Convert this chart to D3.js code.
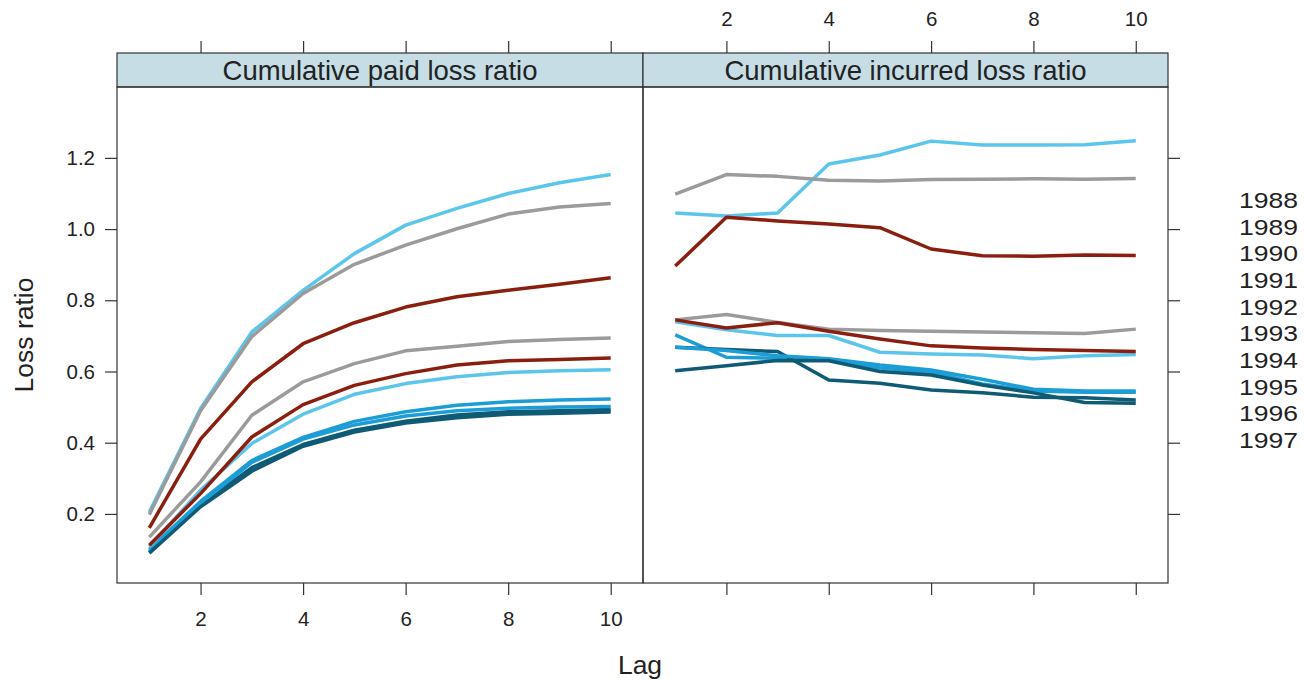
<!DOCTYPE html>
<html>
<head>
<meta charset="utf-8">
<script src="https://cdn.jsdelivr.net/npm/d3@7"></script>
<style>
  body { margin: 0; background: #fff; }
  svg { display: block; font-family: "Liberation Sans", Arial, sans-serif; }
</style>
</head>
<body>
<svg id="chart" width="1304" height="680"></svg>
<script>
// ---------------- data ----------------
const lags = [1, 2, 3, 4, 5, 6, 7, 8, 9, 10];
const years = ["1988", "1989", "1990", "1991", "1992", "1993", "1994", "1995", "1996", "1997"];
const panelTitles = ["Cumulative paid loss ratio", "Cumulative incurred loss ratio"];
const xTicks = [2, 4, 6, 8, 10];
const yTicks = [0.2, 0.4, 0.6, 0.8, 1.0, 1.2];

const paid1988 = [0.205, 0.496, 0.711, 0.828, 0.931, 1.011, 1.058, 1.100, 1.130, 1.153];
const paid1989 = [0.198, 0.490, 0.698, 0.819, 0.901, 0.955, 1.001, 1.042, 1.062, 1.072];
const paid1990 = [0.161, 0.410, 0.571, 0.678, 0.737, 0.781, 0.810, 0.828, 0.845, 0.863];
const paid1991 = [0.100, 0.235, 0.350, 0.415, 0.460, 0.487, 0.505, 0.515, 0.520, 0.523];
const paid1992 = [0.092, 0.225, 0.330, 0.395, 0.435, 0.460, 0.478, 0.487, 0.490, 0.493];
const paid1993 = [0.107, 0.267, 0.398, 0.480, 0.536, 0.566, 0.585, 0.597, 0.602, 0.605];
const paid1994 = [0.135, 0.290, 0.477, 0.571, 0.622, 0.658, 0.671, 0.684, 0.690, 0.694];
const paid1995 = [0.112, 0.257, 0.416, 0.507, 0.561, 0.594, 0.618, 0.630, 0.634, 0.638];
const paid1996 = [0.095, 0.230, 0.345, 0.410, 0.450, 0.475, 0.490, 0.497, 0.500, 0.502];
const paid1997 = [0.090, 0.220, 0.320, 0.390, 0.430, 0.455, 0.470, 0.480, 0.483, 0.486];

const inc1988 = [1.045, 1.037, 1.045, 1.183, 1.208, 1.247, 1.236, 1.236, 1.237, 1.248];
const inc1989 = [1.098, 1.153, 1.148, 1.137, 1.135, 1.139, 1.140, 1.141, 1.140, 1.142];
const inc1990 = [0.896, 1.033, 1.023, 1.014, 1.004, 0.944, 0.925, 0.924, 0.927, 0.926];
const inc1991 = [0.703, 0.640, 0.637, 0.634, 0.610, 0.598, 0.565, 0.545, 0.542, 0.542];
const inc1992 = [0.668, 0.662, 0.656, 0.576, 0.567, 0.548, 0.540, 0.528, 0.526, 0.520];
const inc1993 = [0.740, 0.717, 0.701, 0.701, 0.654, 0.649, 0.646, 0.636, 0.644, 0.648];
const inc1994 = [0.745, 0.760, 0.738, 0.719, 0.715, 0.713, 0.711, 0.709, 0.707, 0.719];
const inc1995 = [0.745, 0.722, 0.737, 0.713, 0.691, 0.672, 0.666, 0.662, 0.659, 0.656];
const inc1996 = [0.668, 0.659, 0.644, 0.636, 0.618, 0.604, 0.578, 0.550, 0.545, 0.545];
const inc1997 = [0.602, 0.616, 0.631, 0.630, 0.600, 0.590, 0.562, 0.540, 0.513, 0.511];

const paidSeries = [paid1988, paid1989, paid1990, paid1991, paid1992, paid1993, paid1994, paid1995, paid1996, paid1997];
const incSeries = [inc1988, inc1989, inc1990, inc1991, inc1992, inc1993, inc1994, inc1995, inc1996, inc1997];

// colour cycle (5 colours over 10 years)
const palette = ["#5cc5ec", "#9b9b9b", "#8a1f10", "#1c9dd6", "#0f5a74"];

// ---------------- layout ----------------
const svg = d3.select("#chart");
const W = 1304, H = 680;
svg.append("rect").attr("width", W).attr("height", H).attr("fill", "#fff");

const panelTop = 87, panelBottom = 583, stripTop = 53;
const panels = [
  { x0: 117, x1: 643, title: panelTitles[0], series: paidSeries },
  { x0: 643, x1: 1168, title: panelTitles[1], series: incSeries }
];

const y = d3.scaleLinear().domain([0.006, 1.399]).range([panelBottom, panelTop]);
const axisColor = "#333";
const textColor = "#222";
const tickFont = 20.5;

panels.forEach((p, pi) => {
  const x = d3.scaleLinear().domain([0.37, 10.63]).range([p.x0, p.x1]);
  const g = svg.append("g");

  // strip
  g.append("rect").attr("x", p.x0).attr("y", stripTop)
    .attr("width", p.x1 - p.x0).attr("height", panelTop - stripTop)
    .attr("fill", "#c6dde6").attr("stroke", axisColor).attr("stroke-width", 1.2);
  g.append("text").attr("x", (p.x0 + p.x1) / 2).attr("y", 80)
    .attr("text-anchor", "middle").attr("font-size", 27.5).attr("fill", textColor)
    .text(p.title);

  // lines
  const line = d3.line().x((d, i) => x(lags[i])).y(d => y(d));
  g.selectAll("path.series").data(p.series).join("path")
    .attr("class", "series")
    .attr("d", d => line(d))
    .attr("fill", "none")
    .attr("stroke", (d, i) => palette[i % palette.length])
    .attr("stroke-width", 3.5)
    .attr("stroke-linejoin", "round");

  // panel border
  g.append("rect").attr("x", p.x0).attr("y", panelTop)
    .attr("width", p.x1 - p.x0).attr("height", panelBottom - panelTop)
    .attr("fill", "none").attr("stroke", axisColor).attr("stroke-width", 1.2);

  // bottom axis
  const bottom = d3.axisBottom(x).tickValues(xTicks).tickSize(12).tickPadding(16)
    .tickFormat(pi === 0 ? d3.format("d") : () => "");
  const gb = g.append("g").attr("transform", `translate(0,${panelBottom})`).call(bottom);

  // top axis (above strip)
  const top = d3.axisTop(x).tickValues(xTicks).tickSize(12).tickPadding(15)
    .tickFormat(pi === 1 ? d3.format("d") : () => "");
  const gt = g.append("g").attr("transform", `translate(0,${stripTop})`).call(top);

  [gb, gt].forEach(a => {
    a.select(".domain").remove();
    a.selectAll("line").attr("stroke", axisColor).attr("stroke-width", 1.2);
    a.selectAll("text").attr("font-size", tickFont).attr("fill", textColor)
      .attr("font-family", "Liberation Sans, Arial, sans-serif");
  });

  if (pi === 0) {
    const left = d3.axisLeft(y).tickValues(yTicks).tickSize(12).tickPadding(10)
      .tickFormat(d3.format(".1f"));
    const gl = g.append("g").attr("transform", `translate(${p.x0},0)`).call(left);
    gl.select(".domain").remove();
    gl.selectAll("line").attr("stroke", axisColor).attr("stroke-width", 1.2);
    gl.selectAll("text").attr("font-size", tickFont).attr("fill", textColor)
      .attr("font-family", "Liberation Sans, Arial, sans-serif");
  } else {
    const right = d3.axisRight(y).tickValues(yTicks).tickSize(12).tickFormat(() => "");
    const gr = g.append("g").attr("transform", `translate(${p.x1},0)`).call(right);
    gr.select(".domain").remove();
    gr.selectAll("line").attr("stroke", axisColor).attr("stroke-width", 1.2);
  }
});

// axis titles
svg.append("text").attr("x", 640).attr("y", 674).attr("text-anchor", "middle")
  .attr("font-size", 26.5).attr("fill", textColor).text("Lag");
svg.append("text")
  .attr("transform", `translate(33,${(panelTop + panelBottom) / 2}) rotate(-90)`)
  .attr("text-anchor", "middle").attr("font-size", 26.5).attr("fill", textColor)
  .text("Loss ratio");

// legend (text only) - slightly stretched glyphs keep the reference width without overlap
const legendY = d3.scalePoint().domain(years).range([200, 440]);
svg.append("g").selectAll("text").data(years).join("text")
  .attr("x", 1239).attr("y", d => legendY(d)).attr("dy", "0.36em")
  .attr("font-size", 22.5).attr("fill", textColor)
  .attr("textLength", 59).attr("lengthAdjust", "spacingAndGlyphs")
  .text(d => d);
</script>
</body>
</html>
